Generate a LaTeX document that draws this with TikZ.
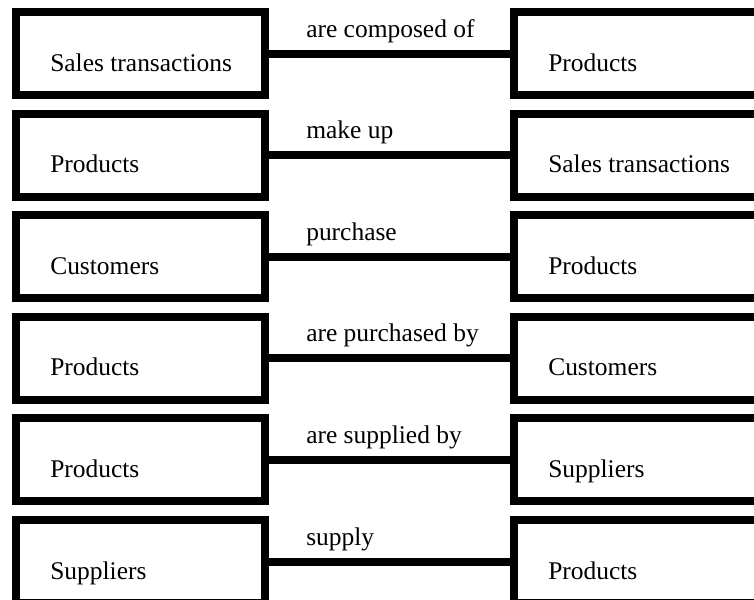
\documentclass[tikz,border=0pt]{standalone}
\usepackage{fontspec}
\setmainfont{Liberation Serif}
\begin{document}
\begin{tikzpicture}[x=0.75pt, y=-0.75pt,
  boxshape/.style={draw=black, line width=6pt, fill=white, rectangle, inner sep=0pt,
    minimum height=62.25pt},
  leftbox/.style={boxshape, minimum width=186.75pt},
  rightbox/.style={boxshape, minimum width=214.5pt},
  txt/.style={inner sep=0pt, anchor=base west, font=\fontsize{19.1}{23}\selectfont},
  conn/.style={draw=black, line width=6pt}
]
\useasboundingbox (0,0) rectangle (754,600);
\clip (0,0) rectangle (754,600);
\foreach \i/\lt/\rl/\rt in {0/Sales transactions/are composed of/Products,
                             1/Products/make up/Sales transactions,
                             2/Customers/purchase/Products,
                             3/Products/are purchased by/Customers,
                             4/Products/are supplied by/Suppliers,
                             5/Suppliers/supply/Products}{
  \pgfmathsetmacro{\yt}{8+101.6*\i}
  \node[leftbox] (L\i) at (140.5, \yt+45.5) {};
  \node[rightbox] (R\i) at (657, \yt+45.5) {};
  \draw[conn] (L\i.east) -- (R\i.west);
  \node[txt] (LT\i) at (50, \yt+63) {\lt};
  \node[txt] (RT\i) at (548, \yt+63) {\rt};
  \node[txt] (C\i) at (306, \yt+29) {\rl};
}
\end{tikzpicture}
\end{document}
